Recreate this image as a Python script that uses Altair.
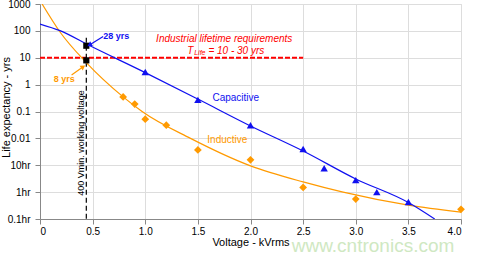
import altair as alt
import pandas as pd

# Measured lifetimes
cap_v = [1.0, 1.5, 2.0, 2.5, 2.7, 3.0, 3.2, 3.5]
cap_life = [2.95, 0.27, 0.031, 0.004, 0.00077, 0.00028, 0.0001, 0.000043]
ind_v = [0.79, 0.90, 1.0, 1.2, 1.5, 2.0, 2.5, 3.0, 4.0]
ind_life = [0.35, 0.19, 0.052, 0.031, 0.0037, 0.0016, 0.00015, 0.000055, 0.000023]

# Trend curves
cap_fit_v = [0.0, 0.19, 0.47, 1.0, 1.5, 2.0, 2.5, 3.0, 3.5, 3.75]
cap_fit_life = [180, 102, 28.5, 2.8, 0.29, 0.029, 0.0034, 0.00031, 0.000041, 0.00001]
ind_fit_v = [0.02, 0.19, 0.44, 0.79, 0.97, 1.43, 2.0, 2.5, 2.88, 3.5, 4.0]
ind_fit_life = [1000, 91, 6.6, 0.35, 0.1, 0.01, 0.00095, 0.00024, 0.0001, 0.000033, 0.000018]

# Operating points at minimum working voltage
op_v = [0.44, 0.44]
op_life = [28, 8]
op_label = ["28 yrs", "8 yrs"]

# Lifetime requirement
req_life = 10
req_v_end = 2.5

# Axis ticks
x_ticks = [0, 0.5, 1.0, 1.5, 2.0, 2.5, 3.0, 3.5, 4.0]
y_ticks = [1e-5, 1e-4, 1e-3, 1e-2, 1e-1, 1, 10, 100, 1000]
y_tick_text = ["0.1hr", "1hr", "10hr", "0.01", "0.1", "1", "10", "100", "1000"]

BLUE = "#1010f0"
ORANGE = "#ff9a00"
RED = "#ff0000"
FONT = "Liberation Sans"

y_label_expr = "[" + ",".join("'%s'" % t for t in y_tick_text) + "][round(log(datum.value)/LN10)+5]"

xs = alt.Scale(domain=[0, 4], nice=False, zero=False)
ys = alt.Scale(type="log", domain=[1e-5, 1000], nice=False)

x_axis = alt.Axis(values=x_ticks, title="Voltage - kVrms",
                  labelExpr="datum.value == 0 ? '0' : format(datum.value, '.1f')",
                  grid=True, titleFontWeight="normal", labelPadding=2, titlePadding=0)
y_axis = alt.Axis(values=y_ticks, title="Life expectancy - yrs",
                  labelExpr=y_label_expr, grid=True, titleFontWeight="normal",
                  labelPadding=5, titleX=-34, titleY=103, titleAngle=270,
                  titleBaseline="middle", titleAlign="center")

cap_df = pd.DataFrame({"v": cap_v, "life": cap_life})
ind_df = pd.DataFrame({"v": ind_v, "life": ind_life})
cap_fit = pd.DataFrame({"v": cap_fit_v, "life": cap_fit_life})
ind_fit = pd.DataFrame({"v": ind_fit_v, "life": ind_fit_life})
op_df = pd.DataFrame({"v": op_v, "life": op_life, "label": op_label})

base_x = alt.X("v:Q", scale=xs, axis=x_axis)
base_y = alt.Y("life:Q", scale=ys, axis=y_axis)

grid = alt.Chart(cap_df).mark_point(opacity=0).encode(x=base_x, y=base_y)

cap_line = alt.Chart(cap_fit).mark_line(color=BLUE, strokeWidth=1.2, clip=True,
                                        interpolate="monotone").encode(
    x=alt.X("v:Q", scale=xs), y=alt.Y("life:Q", scale=ys))
ind_line = alt.Chart(ind_fit).mark_line(color=ORANGE, strokeWidth=1.2, clip=True,
                                        interpolate="monotone").encode(
    x=alt.X("v:Q", scale=xs), y=alt.Y("life:Q", scale=ys))

cap_pts = alt.Chart(cap_df).mark_point(shape="triangle-up", filled=True, color=BLUE,
                                       size=55, opacity=1).encode(
    x=alt.X("v:Q", scale=xs), y=alt.Y("life:Q", scale=ys))
ind_pts = alt.Chart(ind_df).mark_point(shape="diamond", filled=True, color=ORANGE,
                                       size=60, opacity=1).encode(
    x=alt.X("v:Q", scale=xs), y=alt.Y("life:Q", scale=ys))

req_df = pd.DataFrame({"v": [0.0], "v2": [req_v_end], "life": [req_life]})
req_line = alt.Chart(req_df).mark_rule(color=RED, strokeWidth=2.2, strokeDash=[5, 2]).encode(
    x=alt.X("v:Q", scale=xs), x2="v2:Q", y=alt.Y("life:Q", scale=ys))

# Minimum working voltage marker
wv_df = pd.DataFrame({"v": [0.44], "top": [55], "bottom": [1e-5]})
wv_line = alt.Chart(wv_df).mark_rule(color="black", strokeWidth=1.2, strokeDash=[5, 3]).encode(
    x=alt.X("v:Q", scale=xs), y=alt.Y("top:Q", scale=ys), y2="bottom:Q")

op_pts = alt.Chart(op_df).mark_square(color="black", size=38, opacity=1).encode(
    x=alt.X("v:Q", scale=xs), y=alt.Y("life:Q", scale=ys))

# Callout arrows
arrow_df = pd.DataFrame({
    "v": [0.60, 0.30], "life": [62, 2.3],
    "v2": [0.47, 0.41], "life2": [30, 4.6],
    "color": [BLUE, ORANGE], "angle": [239, 56],
})
arrow_rule = alt.Chart(arrow_df).mark_rule(strokeWidth=1.2).encode(
    x=alt.X("v:Q", scale=xs), y=alt.Y("life:Q", scale=ys),
    x2="v2:Q", y2="life2:Q", color=alt.Color("color:N", scale=None))
arrow_head = alt.Chart(arrow_df).mark_point(shape="triangle-up", filled=True, size=30,
                                            opacity=1).encode(
    x=alt.X("v2:Q", scale=xs), y=alt.Y("life2:Q", scale=ys),
    color=alt.Color("color:N", scale=None), angle=alt.Angle("angle:Q", scale=None))

# Text annotations
callouts = pd.DataFrame({
    "v": [0.60, 0.13],
    "life": [65, 1.6],
    "text": op_label,
    "color": [BLUE, ORANGE],
})
series_names = pd.DataFrame({
    "v": [1.86, 1.78],
    "life": [0.32, 0.0087],
    "text": ["Capacitive", "Inductive"],
    "color": [BLUE, ORANGE],
})
notes_left = alt.Chart(callouts).mark_text(
    align="left", baseline="middle", font=FONT, fontSize=9, fontWeight="bold").encode(
    x=alt.X("v:Q", scale=xs), y=alt.Y("life:Q", scale=ys), text="text:N",
    color=alt.Color("color:N", scale=None))
notes_center = alt.Chart(series_names).mark_text(
    align="center", baseline="middle", font=FONT, fontSize=10).encode(
    x=alt.X("v:Q", scale=xs), y=alt.Y("life:Q", scale=ys), text="text:N",
    color=alt.Color("color:N", scale=None))

req_title = alt.Chart(pd.DataFrame({"v": [1.75], "life": [50], "text": ["Industrial lifetime requirements"]})).mark_text(
    align="center", baseline="middle", font=FONT, fontSize=10, fontStyle="italic", color=RED).encode(
    x=alt.X("v:Q", scale=xs), y=alt.Y("life:Q", scale=ys), text="text:N")
req_T = alt.Chart(pd.DataFrame({"v": [1.40], "life": [18], "text": ["T"]})).mark_text(
    align="left", baseline="middle", font=FONT, fontSize=10, fontStyle="italic", color=RED).encode(
    x=alt.X("v:Q", scale=xs), y=alt.Y("life:Q", scale=ys), text="text:N")
req_sub = alt.Chart(pd.DataFrame({"v": [1.465], "life": [14.5], "text": ["Life"]})).mark_text(
    align="left", baseline="middle", font=FONT, fontSize=7, fontStyle="italic", color=RED).encode(
    x=alt.X("v:Q", scale=xs), y=alt.Y("life:Q", scale=ys), text="text:N")
req_rng = alt.Chart(pd.DataFrame({"v": [1.60], "life": [18], "text": ["= 10 - 30 yrs"]})).mark_text(
    align="left", baseline="middle", font=FONT, fontSize=10, fontStyle="italic", color=RED).encode(
    x=alt.X("v:Q", scale=xs), y=alt.Y("life:Q", scale=ys), text="text:N")

wv_text = alt.Chart(pd.DataFrame({"v": [0.39], "life": [0.0067], "text": ["400 Vmin. working voltage"]})).mark_text(
    angle=270, align="center", baseline="middle", font=FONT, fontSize=9, color="black").encode(
    x=alt.X("v:Q", scale=xs), y=alt.Y("life:Q", scale=ys), text="text:N")

watermark = alt.Chart(pd.DataFrame({"text": ["www.cntronics.com"]})).mark_text(
    align="center", baseline="middle", font=FONT, fontSize=19, color="#cfe8c2").encode(
    x=alt.value(333), y=alt.value(242), text="text:N")

chart = alt.layer(
    grid, req_line, wv_line, ind_line, cap_line, ind_pts, cap_pts, op_pts,
    arrow_rule, arrow_head, notes_left, notes_center,
    req_title, req_T, req_sub, req_rng, wv_text, watermark,
).properties(
    width=421, height=215,
    autosize=alt.AutoSizeParams(type="none"),
    padding={"left": 40, "top": 4, "right": 18, "bottom": 36},
).configure_view(
    stroke="black", strokeWidth=2.5,
).configure_axis(
    gridColor="black", gridOpacity=1, gridWidth=1,
    domain=False, ticks=False,
    labelFont=FONT, labelFontSize=8, labelFontWeight="bold", labelColor="black",
    titleFont=FONT, titleFontSize=10, titleColor="black",
).configure(background="white")

chart.save("out.html", embed_options={"renderer": "svg", "actions": False})
